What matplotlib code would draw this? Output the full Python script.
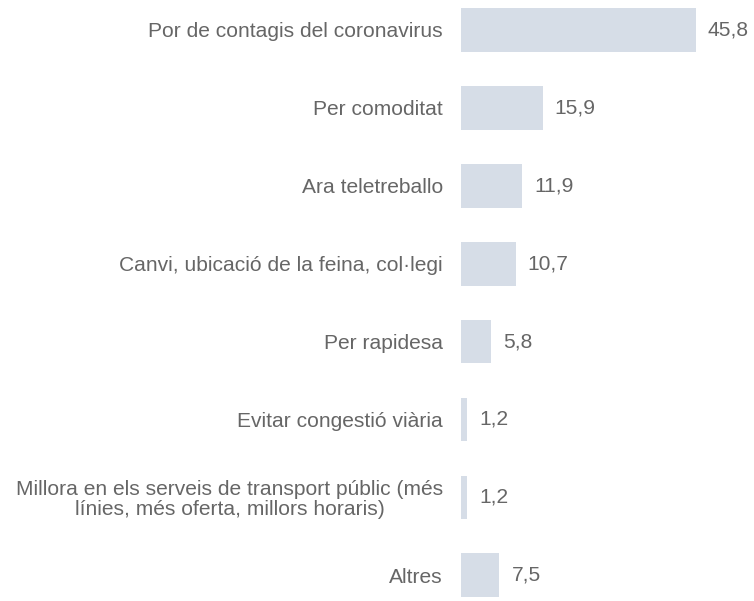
import matplotlib
matplotlib.use('Agg')
import matplotlib.pyplot as plt

# Data
categories = [
    'Por de contagis del coronavirus',
    'Per comoditat',
    'Ara teletreballo',
    'Canvi, ubicació de la feina, col·legi',
    'Per rapidesa',
    'Evitar congestió viària',
    'Millora en els serveis de transport públic (més\nlínies, més oferta, millors horaris)',
    'Altres',
]
values = [45.8, 15.9, 11.9, 10.7, 5.8, 1.2, 1.2, 7.5]
value_labels = ['45,8', '15,9', '11,9', '10,7', '5,8', '1,2', '1,2', '7,5']

bar_color = '#d6dde7'
text_color = '#666666'

plt.rcParams['font.family'] = ['Liberation Sans', 'DejaVu Sans']

fig = plt.figure(figsize=(7.54, 6.01), dpi=100)
ax = fig.add_axes([461 / 754, 0, 293 / 754, 1])

pos = list(range(len(categories)))
ax.barh(pos, values, height=0.56, color=bar_color)

for p, v, lab in zip(pos, values, value_labels):
    ax.annotate(lab, (v, p), xytext=(8.6, 0), textcoords='offset points',
                ha='left', va='center', fontsize=15.1, color=text_color)

ax.set_yticks(pos)
ax.set_yticklabels(categories, fontsize=15.1, color=text_color,
                   linespacing=1.05)
for t in ax.get_yticklabels():
    t.set_multialignment('center')
ax.tick_params(axis='y', length=0, pad=13)
ax.set_xticks([])

ax.set_xlim(0, 293 / 5.13)
ax.set_ylim(7.33, -0.385)
for s in ax.spines.values():
    s.set_visible(False)

fig.savefig('out.png', dpi=100, facecolor='white')
